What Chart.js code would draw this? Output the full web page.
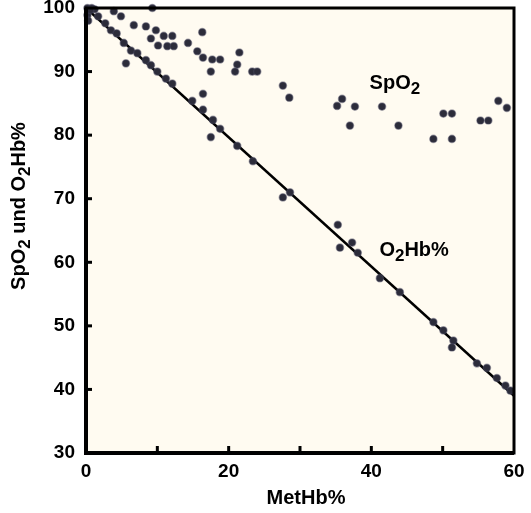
<!DOCTYPE html>
<html>
<head>
<meta charset="utf-8">
<script src="https://cdn.jsdelivr.net/npm/chart.js@4.4.1/dist/chart.umd.min.js"></script>
<style>
  body { margin: 0; background: #ffffff; }
</style>
</head>
<body>
<canvas id="chart" width="531" height="513"></canvas>
<script>
// SpO2 readings (pulse oximeter) against MetHb%
var spo2MetHb = [3.9, 4.9, 6.7, 8.4, 9.8, 9.1, 10.9, 12.1, 10.1, 11.4, 12.3, 9.3, 14.3, 16.3, 15.6, 16.4, 17.7, 18.8, 21.5, 17.5, 21.2, 20.9, 23.3, 24.0, 27.6, 28.5, 35.9, 35.2, 37.7, 41.5, 37.0, 43.8, 50.1, 51.3, 48.7, 51.3, 55.3, 56.4, 57.8, 59.0, 5.6];
var spo2Values = [99.5, 98.7, 97.3, 97.1, 96.5, 95.2, 95.6, 95.6, 94.1, 94.0, 94.0, 100, 94.5, 96.2, 93.2, 92.2, 91.9, 91.9, 93.0, 90.0, 91.1, 90.0, 90.0, 90.0, 87.8, 85.9, 85.7, 84.6, 84.5, 84.5, 81.5, 81.5, 83.4, 83.4, 79.4, 79.4, 82.3, 82.3, 85.4, 84.3, 91.3];

// O2Hb% measured by co-oximetry
var o2hbMetHb = [0.2, 0.2, 0.3, 0.8, 1.2, 0.6, 1.7, 2.7, 3.5, 4.3, 5.3, 6.3, 7.2, 8.4, 9.1, 10.0, 11.2, 12.1, 16.4, 14.9, 16.4, 17.8, 18.8, 17.5, 21.2, 23.4, 27.6, 28.6, 35.3, 35.6, 37.3, 38.1, 41.2, 44.0, 48.7, 50.1, 51.5, 51.3, 54.8, 56.2, 57.6, 58.8, 59.5];
var o2hbValues = [100, 98.9, 98.0, 100, 99.8, 99.7, 98.7, 97.6, 96.5, 96.0, 94.5, 93.3, 92.9, 91.8, 91.0, 90.0, 88.9, 88.1, 86.5, 85.4, 84.0, 82.4, 81.0, 79.7, 78.3, 75.9, 70.2, 71.0, 65.9, 62.3, 63.1, 61.5, 57.5, 55.3, 50.6, 49.3, 47.7, 46.6, 44.1, 43.4, 41.8, 40.6, 39.8];

// regression line for O2Hb%
var fitMetHb = [0, 60];
var fitO2Hb = [100, 39];

var xTickLabels = {0: "0", 20: "20", 40: "40", 60: "60"};

function toPoints(xs, ys) {
    return xs.map(function (x, i) { return { x: x, y: ys[i] }; });
}

// draws text with subscript pieces, e.g. [["SpO"], ["2", true]]
function richText(ctx, parts, x, y, size) {
    var mainFont = "bold " + size + "px 'Liberation Sans', Arial, sans-serif";
    var subFont = "bold " + Math.round(size * 0.85) + "px 'Liberation Sans', Arial, sans-serif";
    var total = 0;
    parts.forEach(function (p) {
        ctx.font = p[1] ? subFont : mainFont;
        total += ctx.measureText(p[0]).width;
    });
    var cx = x - total / 2;
    ctx.textAlign = "left";
    ctx.textBaseline = "middle";
    parts.forEach(function (p) {
        ctx.font = p[1] ? subFont : mainFont;
        ctx.fillText(p[0], cx, y + (p[1] ? size * 0.3 : 0));
        cx += ctx.measureText(p[0]).width;
    });
}

var framePlugin = {
    id: "frame",
    beforeDraw: function (chart) {
        var a = chart.chartArea, ctx = chart.ctx;
        ctx.save();
        ctx.fillStyle = "#fffbf1";
        ctx.fillRect(a.left, a.top, a.right - a.left, a.bottom - a.top);
        ctx.restore();
    },
    afterDraw: function (chart) {
        var a = chart.chartArea, ctx = chart.ctx;
        var xs = chart.scales.x, ys = chart.scales.y;
        ctx.save();
        ctx.strokeStyle = "#000";
        // box
        ctx.lineWidth = 3;
        ctx.strokeRect(a.left, a.top, a.right - a.left, a.bottom - a.top);
        ctx.lineWidth = 4;
        ctx.beginPath();
        ctx.moveTo(a.left, a.top);
        ctx.lineTo(a.left, a.bottom);
        ctx.lineTo(a.right, a.bottom);
        ctx.stroke();
        // inward tick marks
        ctx.lineWidth = 3;
        ys.ticks.forEach(function (t) {
            if (t.value <= ys.min || t.value >= ys.max) return;
            var py = ys.getPixelForValue(t.value);
            ctx.beginPath();
            ctx.moveTo(a.left, py);
            ctx.lineTo(a.left + 6, py);
            ctx.stroke();
        });
        xs.ticks.forEach(function (t) {
            if (t.value <= xs.min || t.value >= xs.max) return;
            var px = xs.getPixelForValue(t.value);
            ctx.beginPath();
            ctx.moveTo(px, a.bottom);
            ctx.lineTo(px, a.bottom - 7);
            ctx.stroke();
        });

        // series names inside the plot
        ctx.fillStyle = "#000";
        richText(ctx, [["SpO"], ["2", true]], xs.getPixelForValue(43.3), ys.getPixelForValue(88.2), 20);
        richText(ctx, [["O"], ["2", true], ["Hb%"]], xs.getPixelForValue(46.0), ys.getPixelForValue(61.9), 20);

        // axis titles
        richText(ctx, [["MetHb%"]], 306, 498, 20);
        ctx.translate(19, 206);
        ctx.rotate(-Math.PI / 2);
        richText(ctx, [["SpO"], ["2", true], [" und O"], ["2", true], ["Hb%"]], 0, 0, 20);
        ctx.restore();
    }
};

var tickFont = { family: "'Liberation Sans', Arial, sans-serif", size: 19, weight: "bold" };

new Chart("chart", {
    type: "scatter",
    data: {
        datasets: [
            {
                label: "SpO2",
                data: toPoints(spo2MetHb, spo2Values),
                backgroundColor: "#2c2c3a",
                borderColor: "rgba(70,70,95,0.45)",
                borderWidth: 1.5,
                pointRadius: 3.6,
                clip: 6,
            },
            {
                label: "O2Hb%",
                data: toPoints(o2hbMetHb, o2hbValues),
                backgroundColor: "#2c2c3a",
                borderColor: "rgba(70,70,95,0.45)",
                borderWidth: 1.5,
                pointRadius: 3.6,
                clip: 6,
            },
            {
                label: "fit",
                type: "line",
                data: toPoints(fitMetHb, fitO2Hb),
                borderColor: "#000",
                borderWidth: 2.5,
                pointRadius: 0,
                fill: false,
            },
        ],
    },
    options: {
        responsive: false,
        animation: false,
        layout: { padding: { top: 8, right: 17, left: 0, bottom: 0 } },
        plugins: {
            legend: { display: false },
            tooltip: { enabled: false },
        },
        scales: {
            x: {
                type: "linear",
                min: 0,
                max: 60,
                grid: { display: false, drawTicks: false },
                border: { display: false },
                ticks: {
                    stepSize: 10,
                    padding: 7,
                    color: "#000",
                    font: tickFont,
                    maxRotation: 0,
                    callback: function (v) { return xTickLabels[v] || ""; },
                },
                afterFit: function (scale) {
                    scale.height = 60;
                    scale.paddingLeft = 0;
                    scale.paddingRight = 0;
                },
            },
            y: {
                min: 30,
                max: 100,
                grid: { display: false, drawTicks: false },
                border: { display: false },
                ticks: {
                    stepSize: 10,
                    padding: 11,
                    color: "#000",
                    font: tickFont,
                },
                afterFit: function (scale) {
                    scale.width = 86;
                    scale.paddingTop = 0;
                    scale.paddingBottom = 0;
                },
            },
        },
    },
    plugins: [framePlugin],
});
</script>
</body>
</html>
